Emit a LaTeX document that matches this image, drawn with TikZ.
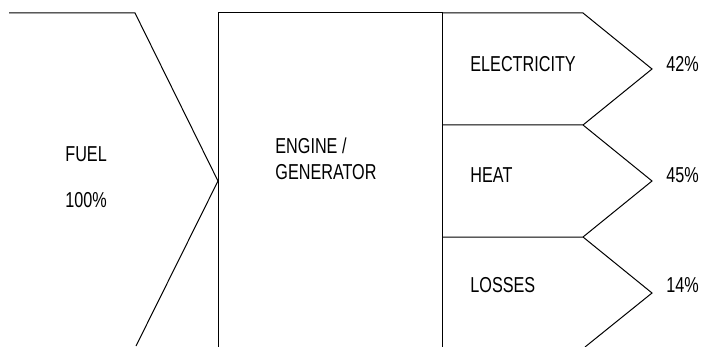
\documentclass[tikz,border=0pt]{standalone}
\usepackage{fontspec}
\setmainfont{Liberation Sans}[FakeStretch=0.75]
\usepackage{tikz}
\usetikzlibrary{positioning, calc}
\tikzset{
  edge/.style={draw, line width=0.5pt, line join=miter},
  lbl/.style={anchor=west, inner sep=0pt, font=\fontsize{10.8}{12}\selectfont},
}

\begin{document}
\begin{tikzpicture}[x=0.5pt, y=-0.5pt]
  \useasboundingbox (0,0) rectangle (705,347);
  % fuel arrow
  \coordinate (f1) at (9,13);   \coordinate (f2) at (135,13);
  \coordinate (ftip) at (218,181); \coordinate (f3) at (136,346);
  \draw[edge] (f1) -- (f2) -- (ftip) -- (f3);
  % engine block
  \coordinate (e1) at (218,347); \coordinate (e2) at (218,13);
  \coordinate (e3) at (442,13);  \coordinate (e4) at (442,347);
  \draw[edge] (e1) -- (e2) -- (e3) -- (e4);
  % output arrows
  \coordinate (o1) at (583,13);  \coordinate (t1) at (652,69);
  \coordinate (s2) at (442,125); \coordinate (o2) at (583,125); \coordinate (t2) at (652,181);
  \coordinate (s3) at (442,237); \coordinate (o3) at (583,237); \coordinate (t3) at (652,293);
  \coordinate (o4) at (585,347);
  \draw[edge] (e3) -- (o1) -- (t1) -- (o2);
  \draw[edge] (s2) -- (o2) -- (t2) -- (o3);
  \draw[edge] (s3) -- (o3) -- (t3) -- (o4);
  % labels
  \node[lbl] (fuel) at (65,154) {FUEL};
  \node[lbl] (fuelp) at (65,200) {100\%};
  \node[lbl] (eng) at (275,146) {ENGINE /};
  \node[lbl] (gen) at (275,172.5) {GENERATOR};
  \node[lbl] (elec) at (470,64) {ELECTRICITY};
  \node[lbl] (elecp) at (666,64) {42\%};
  \node[lbl] (heat) at (470,175) {HEAT};
  \node[lbl] (heatp) at (666,175) {45\%};
  \node[lbl] (loss) at (470,285) {LOSSES};
  \node[lbl] (lossp) at (666,285) {14\%};
\end{tikzpicture}
\end{document}
